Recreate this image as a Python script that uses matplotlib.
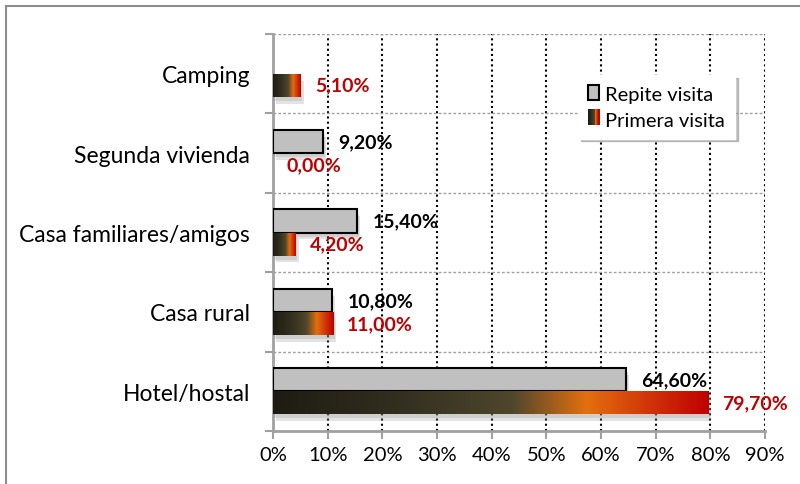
import numpy as np
import matplotlib
matplotlib.use('Agg')
import matplotlib.pyplot as plt
import matplotlib.patheffects as pe
from matplotlib.colors import LinearSegmentedColormap
from matplotlib.legend_handler import HandlerBase
from matplotlib.patches import Rectangle
from matplotlib.lines import Line2D

plt.rcParams['font.family'] = ['Lato', 'DejaVu Sans']

categories = ['Camping', 'Segunda vivienda', 'Casa familiares/amigos', 'Casa rural', 'Hotel/hostal']
repite = [np.nan, 9.2, 15.4, 10.8, 64.6]
primera = [5.1, 0.0, 4.2, 11.0, 79.7]
series_names = ['Repite visita', 'Primera visita']
xticks = list(range(0, 100, 10))

grad = LinearSegmentedColormap.from_list('grad', [
    (0.0, '#1e1b12'), (0.3, '#333020'), (0.55, '#4f472c'),
    (0.72, '#e3700e'), (0.85, '#d23a0a'), (1.0, '#c00000')])

fig = plt.figure(figsize=(8, 4.85), dpi=100)
ax = fig.add_axes([273/800, 1-432/485, (765-273)/800, (432-35)/485])

# outer chart frame (left and top only are visible)
fig.add_artist(Line2D([6/800, 6/800], [0, 1-7/485], transform=fig.transFigure, color='#8c8c8c', lw=1.5))
fig.add_artist(Line2D([6/800, 1], [1-7/485, 1-7/485], transform=fig.transFigure, color='#8c8c8c', lw=1.5))

y = np.arange(len(categories))
h = 0.29
shadow = [pe.SimplePatchShadow(offset=(2, -5), shadow_rgbFace='#909090', alpha=0.25),
          pe.SimplePatchShadow(offset=(1, -3), shadow_rgbFace='#909090', alpha=0.25),
          pe.Normal()]

bars_r = ax.barh(y - 0.145, np.nan_to_num(repite), height=h, color='#c0c0c0',
                 edgecolor='black', lw=1.5, zorder=3)
for b, v in zip(bars_r, repite):
    if np.isnan(v):
        b.set_visible(False)
    else:
        b.set_path_effects(shadow)

bars_p = ax.barh(y + 0.145, primera, height=h, color='#1e1b12', lw=0, zorder=3)
gimg = np.linspace(0, 1, 256).reshape(1, -1)
for b, v in zip(bars_p, primera):
    if v <= 0:
        continue
    b.set_path_effects(shadow)
    x0, y0 = b.get_x(), b.get_y()
    im = ax.imshow(gimg, cmap=grad, aspect='auto', zorder=4,
                   extent=(x0, x0 + b.get_width(), y0 + b.get_height(), y0), interpolation='bicubic')
    im.set_clip_path(b)

def fmt(v):
    return ('%.2f%%' % v).replace('.', ',')

for yi, v in zip(y, repite):
    if not np.isnan(v):
        ax.annotate(fmt(v), (v, yi - 0.145), xytext=(11, 0), textcoords='offset points',
                    ha='left', va='center', fontsize=14, fontweight='bold', color='black', zorder=6)
for yi, v in zip(y, primera):
    ax.annotate(fmt(v), (v, yi + 0.145), xytext=(10, 0), textcoords='offset points',
                ha='left', va='center', fontsize=14, fontweight='bold', color='#c00000', zorder=6)

ax.set_xlim(0, 90)
ax.set_ylim(len(categories) - 0.5, -0.5)
ax.set_xticks(xticks)
ax.set_xticklabels(['%d%%' % t for t in xticks], fontsize=14.5)
ax.set_yticks(np.arange(len(categories) + 1) - 0.5)
ax.set_yticklabels([])
ax.set_yticks(y, minor=True)
ax.set_yticklabels(categories, minor=True, fontsize=16.5)
ax.tick_params(axis='y', which='minor', length=0, pad=16.5)
ax.tick_params(axis='y', which='major', length=6, width=1.5, color='#a0a0a0')
ax.tick_params(axis='x', length=6, width=1.5, color='#a0a0a0', pad=5)

for t in xticks[1:]:
    ax.axvline(t, color='black', ls=(0, (1, 1.5)), lw=1.5, zorder=1)
for b in np.arange(len(categories)) - 0.5:
    ax.axhline(b, color='#a0a0a0', ls=(0, (2, 1.5)), lw=1, zorder=1)

ax.spines['top'].set_visible(False)
ax.spines['right'].set_visible(False)
ax.spines['left'].set_color('#a0a0a0')
ax.spines['left'].set_linewidth(2)
ax.spines['bottom'].set_color('#a0a0a0')
ax.spines['bottom'].set_linewidth(2)


class GradHandler(HandlerBase):
    def create_artists(self, legend, orig, xd, yd, w, hh, fs, trans):
        n = 12
        arts = []
        for i in range(n):
            arts.append(Rectangle((xd + w * i / n, yd), w / n + 0.3, hh,
                                  facecolor=grad(i / (n - 1)), lw=0, transform=trans))
        return arts


h1 = Rectangle((0, 0), 1, 1, facecolor='#c0c0c0', edgecolor='black', lw=1.5)
h2 = Rectangle((0, 0), 1, 1, facecolor='#c0c0c0')
leg = fig.legend([h1, h2], series_names, loc='upper left', bbox_to_anchor=(578/800, 1-76/485),
                 handler_map={h2: GradHandler()}, fontsize=14.5, frameon=True, fancybox=False,
                 shadow={'color': '#888888', 'alpha': 0.5}, edgecolor='white',
                 handlelength=0.55, handleheight=0.8, handletextpad=0.3, borderpad=0.5,
                 labelspacing=0.4, borderaxespad=0)

fig.savefig('out.png', dpi=100)
